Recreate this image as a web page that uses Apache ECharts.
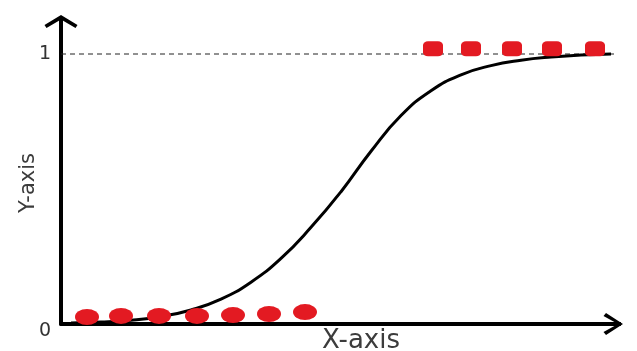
<!DOCTYPE html>
<html><head><meta charset="utf-8">
<script src="https://cdn.jsdelivr.net/npm/echarts@6/dist/echarts.min.js"></script>
<style>html,body{margin:0;padding:0;background:#fff}#c{width:637px;height:351px}</style>
</head><body><div id="c"></div>
<script>
// Sigmoid curve
const curveX = [10, 40, 70, 100, 130, 160, 190, 220, 250, 280, 310, 340, 370, 400, 430, 460, 490, 520, 550];
const curveY = [0.004, 0.007, 0.014, 0.028, 0.052, 0.092, 0.155, 0.243, 0.358, 0.490, 0.640, 0.772, 0.864, 0.923, 0.957, 0.977, 0.989, 0.996, 1.0];
// Red observations near 0
const lowDotsX = [26, 60, 98, 136, 172, 208, 244];
const lowDotsY = [0.026, 0.030, 0.030, 0.030, 0.033, 0.037, 0.044];
// Red observations near 1
const highDotsX = [372, 410, 451, 491, 534];
const highDotsY = [1.019, 1.019, 1.019, 1.019, 1.019];
// Dashed reference line at y = 1
const refLineX = [0, 576];
const refLineY = [1, 1];
const yTickValues = [0, 1];
const yTickLabels = ['0', '1'];
const xAxisName = 'X-axis';
const yAxisName = 'Y-axis';

const zip = (xs, ys) => xs.map((x, i) => [x, ys[i]]);

const yArrow = 'path://M16.5,0 L33,10 L31,13 L16.5,4.5 L2,13 L0,10 Z M14.5,2 L18.5,2 L18.5,24 L14.5,24 Z';
const xArrow = 'path://M11,0 L22,17 L19,19.5 L11,5 L3,19.5 L0,17 Z M9,2 L13,2 L13,20 L9,20 Z';

const chart = echarts.init(document.getElementById('c'), null, {renderer: 'canvas'});
chart.setOption({
  animation: false,
  backgroundColor: '#fff',
  grid: {left: 61, right: 24, top: 27, bottom: 27, containLabel: false, outerBoundsMode: 'none'},
  xAxis: {
    type: 'value', min: 0, max: 552,
    name: xAxisName, nameLocation: 'middle', nameGap: 4, nameMoveOverlap: false,
    nameTextStyle: {fontFamily: 'DejaVu Sans', fontSize: 26, color: '#3c3c3c', padding: [0, 0, 0, 48]},
    axisLine: {show: true, symbol: ['none', xArrow], symbolSize: [22, 20],
      lineStyle: {color: '#000', width: 4}},
    axisTick: {show: false}, axisLabel: {show: false}, splitLine: {show: false}
  },
  yAxis: {
    type: 'value', min: 0, max: 1.1, interval: 1,
    name: yAxisName, nameLocation: 'middle', nameGap: 22, nameRotate: 90, nameMoveOverlap: false,
    nameTextStyle: {fontFamily: 'DejaVu Sans', fontSize: 21, color: '#3c3c3c', padding: [0, 15, 0, 0]},
    axisLine: {show: true, symbol: ['none', yArrow], symbolSize: [33, 24],
      lineStyle: {color: '#000', width: 4}},
    axisTick: {show: false},
    axisLabel: {
      show: true, margin: 10, fontFamily: 'DejaVu Sans', fontSize: 19, color: '#333',
      showMaxLabel: false,
      formatter: function (v) {
        const i = yTickValues.indexOf(v);
        if (i < 0) return '';
        return v === 0 ? '{z|' + yTickLabels[i] + '}' : yTickLabels[i];
      },
      rich: {z: {fontFamily: 'DejaVu Sans', fontSize: 19, color: '#333', padding: [15, 0, 0, 0]}}
    },
    splitLine: {show: false}
  },
  series: [
    {type: 'line', data: zip(refLineX, refLineY), symbol: 'none', clip: false, z: 1,
      lineStyle: {color: '#222', width: 1, type: [5, 4]}},
    {type: 'line', data: zip(curveX, curveY), symbol: 'none', smooth: true, clip: false, z: 2,
      lineStyle: {color: '#000', width: 3}},
    {type: 'scatter', data: zip(lowDotsX, lowDotsY), symbol: 'circle', symbolSize: [24, 16], clip: false, z: 3,
      itemStyle: {color: '#e31a22', opacity: 1}},
    {type: 'scatter', data: zip(highDotsX, highDotsY), symbol: 'roundRect', symbolSize: [20, 15], clip: false, z: 3,
      itemStyle: {color: '#e31a22', opacity: 1}}
  ]
});
</script></body></html>
